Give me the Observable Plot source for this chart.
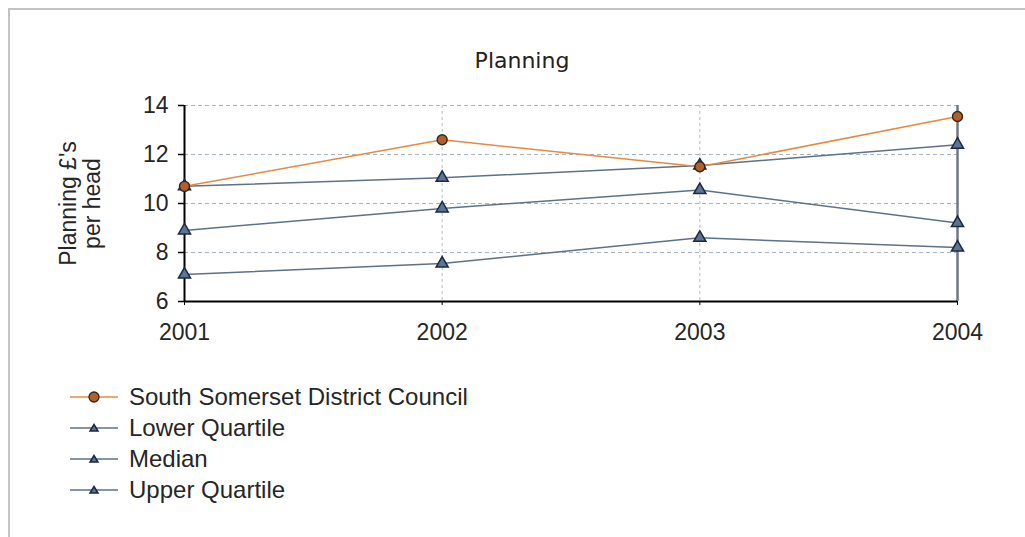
<!DOCTYPE html>
<html><head><meta charset="utf-8">
<script src="https://cdn.jsdelivr.net/npm/d3@7"></script>
<script src="https://cdn.jsdelivr.net/npm/@observablehq/plot@0.6"></script>
<style>
html,body{margin:0;padding:0;background:#fff;}
body{width:1025px;height:537px;position:relative;overflow:hidden;font-family:"Liberation Sans",Arial,sans-serif;color:#222;}
#frame{position:absolute;left:8px;top:8px;width:2000px;height:1000px;border-left:2px solid #c3c3c3;border-top:2px solid #c3c3c3;}
#title{position:absolute;left:0;width:1044px;top:47px;text-align:center;font:22px "DejaVu Sans",sans-serif;color:#222;line-height:28px;}
#chart{position:absolute;left:0;top:70px;}
#legend{position:absolute;left:70px;top:381px;}
.row{height:31px;display:flex;align-items:center;font-size:24px;white-space:nowrap;color:#262626;}
.row svg{margin-right:11px;flex:none;}
</style></head><body>
<div id="frame"></div>
<div id="title"></div>
<div id="chart"></div>
<div id="legend"></div>
<script>
const title = "Planning";
const yLabel = "Planning £'s\nper head";
const years = [2001, 2002, 2003, 2004];
const yTicks = [6, 8, 10, 12, 14];
const seriesNames = ["South Somerset District Council", "Lower Quartile", "Median", "Upper Quartile"];
const ssdc = [10.7, 12.6, 11.5, 13.55];
const lowerQuartile = [7.1, 7.55, 8.6, 8.2];
const median = [8.9, 9.8, 10.55, 9.2];
const upperQuartile = [10.7, 11.05, 11.55, 12.4];

const toRows = (name, vals) => years.map((year, i) => ({series: name, year, value: vals[i]}));
const quart = [
  ...toRows(seriesNames[1], lowerQuartile),
  ...toRows(seriesNames[2], median),
  ...toRows(seriesNames[3], upperQuartile)
];
const council = toRows(seriesNames[0], ssdc);

const councilLine = "#e58a40", councilFill = "#b0602a", councilStroke = "#35251c";
const qLine = "#5d7189", qFill = "#5c7594", qStroke = "#1b2942";

document.getElementById("title").textContent = title;

const chart = Plot.plot({
  width: 1025, height: 290,
  marginLeft: 184, marginRight: 68, marginTop: 35, marginBottom: 59,
  style: {fontFamily: "'Liberation Sans', Arial, sans-serif", fontSize: "23px", color: "#262626", background: "transparent", overflow: "visible"},
  x: {type: "linear", domain: [years[0], years[years.length - 1]]},
  y: {domain: [yTicks[0], yTicks[yTicks.length - 1]]},
  marks: [
    Plot.gridY(yTicks.slice(1), {stroke: "#a9b4c2", strokeOpacity: 1, strokeDasharray: "4,3"}),
    Plot.gridX(years.slice(1, 3), {stroke: "#b4bcc6", strokeOpacity: 1, strokeDasharray: "3,3"}),
    Plot.ruleX(years.slice(-1), {stroke: "#6f7983", strokeWidth: 2.5}),
    Plot.axisY(yTicks, {tickSize: 6, tickPadding: 10, label: null, stroke: "#000", strokeWidth: 1.5}),
    Plot.axisX(years, {tickSize: 4, tickPadding: 18, tickFormat: "d", label: null, stroke: "#000"}),
    Plot.ruleY(yTicks.slice(0, 1), {stroke: "#000", strokeWidth: 2}),
    Plot.ruleX(years.slice(0, 1), {stroke: "#000", strokeWidth: 2}),
    Plot.line(quart, {x: "year", y: "value", z: "series", stroke: qLine, strokeWidth: 1.5}),
    Plot.dot(quart, {x: "year", y: "value", symbol: "triangle", r: 4.5, fill: qFill, stroke: qStroke, strokeWidth: 1.5}),
    Plot.line(council, {x: "year", y: "value", stroke: councilLine, strokeWidth: 1.5}),
    Plot.dot(council, {x: "year", y: "value", r: 5, fill: councilFill, stroke: councilStroke, strokeWidth: 1.4}),
    Plot.text([yLabel], {frameAnchor: "left", dx: -104, rotate: -90, textAnchor: "middle", lineHeight: 1.05, fontSize: 23, fill: "#262626"})
  ]
});
document.getElementById("chart").appendChild(chart);

const legend = document.getElementById("legend");
seriesNames.forEach((name, i) => {
  const row = document.createElement("div");
  row.className = "row";
  const isCouncil = i === 0;
  const line = isCouncil ? councilLine : qLine;
  const marker = isCouncil
    ? `<circle cx="24" cy="10" r="5" fill="${councilFill}" stroke="${councilStroke}" stroke-width="1.3"/>`
    : `<path d="M24,6.5 L28,13 L20,13 Z" fill="${qFill}" stroke="${qStroke}" stroke-width="1.5"/>`;
  row.innerHTML = `<svg width="48" height="20"><line x1="0" x2="48" y1="10" y2="10" stroke="${line}" stroke-width="1.5"/>${marker}</svg><span></span>`;
  row.querySelector("span").textContent = name;
  legend.appendChild(row);
});
</script>
</body></html>
